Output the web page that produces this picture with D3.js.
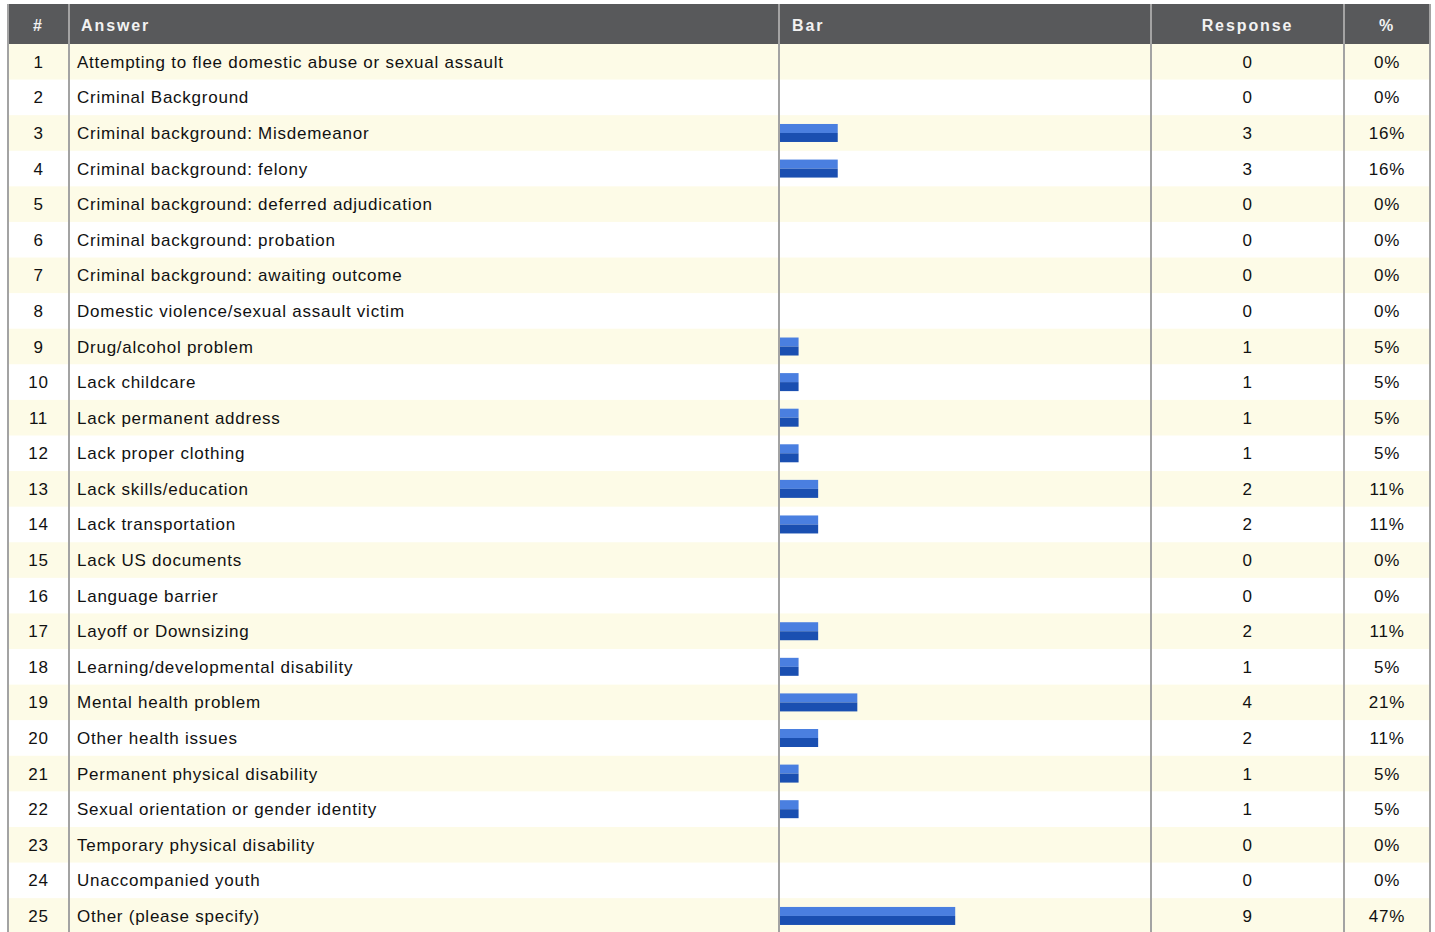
<!DOCTYPE html>
<html>
<head>
<meta charset="utf-8">
<script src="https://cdn.jsdelivr.net/npm/d3@7"></script>
<style>
  body { margin: 0; background: #fff; }
  svg text { font-family: "Liberation Sans", Arial, sans-serif; }
</style>
</head>
<body>
<div id="chart"></div>
<script>
// table data
const answers = [
  'Attempting to flee domestic abuse or sexual assault',
  'Criminal Background',
  'Criminal background: Misdemeanor',
  'Criminal background: felony',
  'Criminal background: deferred adjudication',
  'Criminal background: probation',
  'Criminal background: awaiting outcome',
  'Domestic violence/sexual assault victim',
  'Drug/alcohol problem',
  'Lack childcare',
  'Lack permanent address',
  'Lack proper clothing',
  'Lack skills/education',
  'Lack transportation',
  'Lack US documents',
  'Language barrier',
  'Layoff or Downsizing',
  'Learning/developmental disability',
  'Mental health problem',
  'Other health issues',
  'Permanent physical disability',
  'Sexual orientation or gender identity',
  'Temporary physical disability',
  'Unaccompanied youth',
  'Other (please specify)'
];
const responses = [0, 0, 3, 3, 0, 0, 0, 0, 1, 1, 1, 1, 2, 2, 0, 0, 2, 1, 4, 2, 1, 1, 0, 0, 9];
const percents = ['0%', '0%', '16%', '16%', '0%', '0%', '0%', '0%', '5%', '5%', '5%', '5%', '11%', '11%',
  '0%', '0%', '11%', '5%', '21%', '11%', '5%', '5%', '0%', '0%', '47%'];
const headers = ['#', 'Answer', 'Bar', 'Response', '%'];
const respondents = 19;

const width = 1435;
const height = 932;
const leftX = 8;
const topY = 4;
const headH = 40;
const rowH = 35.59;
// column edges
const cols = [leftX, 69, 779, 1151, 1344, 1430];

const svg = d3.select('#chart').append('svg')
  .attr('width', width).attr('height', height);

const y = d3.scaleBand()
  .domain(d3.range(answers.length))
  .range([topY + headH, topY + headH + rowH * answers.length])
  .padding(0);

const x = d3.scaleLinear()
  .domain([0, respondents])
  .range([cols[2], cols[3]]);

// header
svg.append('rect')
  .attr('x', leftX).attr('y', topY)
  .attr('width', cols[5] - leftX).attr('height', headH)
  .attr('fill', '#58595b');

const head = svg.append('g').attr('class', 'header');
const headPos = [
  {x: (cols[0] + cols[1]) / 2, a: 'middle'},
  {x: cols[1] + 12, a: 'start'},
  {x: cols[2] + 13, a: 'start'},
  {x: (cols[3] + cols[4]) / 2, a: 'middle'},
  {x: (cols[4] + cols[5]) / 2, a: 'middle'}
];
head.selectAll('text').data(headers).enter()
  .append('text')
  .attr('x', (d, i) => headPos[i].x)
  .attr('y', topY + headH / 2 + 7)
  .attr('text-anchor', (d, i) => headPos[i].a)
  .attr('fill', '#f2f2f2')
  .style('font-size', '16px')
  .style('font-weight', 'bold')
  .style('letter-spacing', '1.9px')
  .text(d => d);

// rows
const rows = svg.append('g').attr('class', 'rows')
  .selectAll('g').data(answers).enter()
  .append('g')
  .attr('transform', (d, i) => 'translate(0,' + y(i) + ')');

rows.append('rect')
  .attr('x', leftX).attr('width', cols[5] - leftX)
  .attr('height', y.bandwidth() + 0.5)
  .attr('fill', (d, i) => i % 2 === 0 ? '#fdfbe7' : '#ffffff');

const mid = y.bandwidth() / 2 + 6;
const txt = (sel) => sel
  .attr('y', mid)
  .attr('fill', '#111')
  .style('font-size', '17px')
  .style('letter-spacing', '0.75px');

rows.append('text').call(txt)
  .attr('x', (cols[0] + cols[1]) / 2)
  .attr('text-anchor', 'middle')
  .text((d, i) => i + 1);

rows.append('text').call(txt)
  .attr('x', cols[1] + 8)
  .text(d => d);

rows.append('text').call(txt)
  .attr('x', (cols[3] + cols[4]) / 2)
  .attr('text-anchor', 'middle')
  .text((d, i) => responses[i]);

rows.append('text').call(txt)
  .attr('x', (cols[4] + cols[5]) / 2)
  .attr('text-anchor', 'middle')
  .text((d, i) => percents[i]);

// bars: two-tone blue
const barH = 18;
const bars = rows.filter((d, i) => responses[i] > 0);
bars.append('rect')
  .attr('x', x(0))
  .attr('y', (y.bandwidth() - barH) / 2)
  .attr('width', (d) => x(responses[answers.indexOf(d)]) - x(0))
  .attr('height', barH / 2)
  .attr('fill', '#4a7fe0');
bars.append('rect')
  .attr('x', x(0))
  .attr('y', y.bandwidth() / 2)
  .attr('width', (d) => x(responses[answers.indexOf(d)]) - x(0))
  .attr('height', barH / 2)
  .attr('fill', '#1a4fb1');

// column dividers
svg.append('g').selectAll('line').data(cols).enter()
  .append('line')
  .attr('x1', d => d).attr('x2', d => d)
  .attr('y1', topY).attr('y2', height)
  .attr('stroke', '#a3a3a3')
  .attr('stroke-width', 2);
</script>
</body>
</html>
